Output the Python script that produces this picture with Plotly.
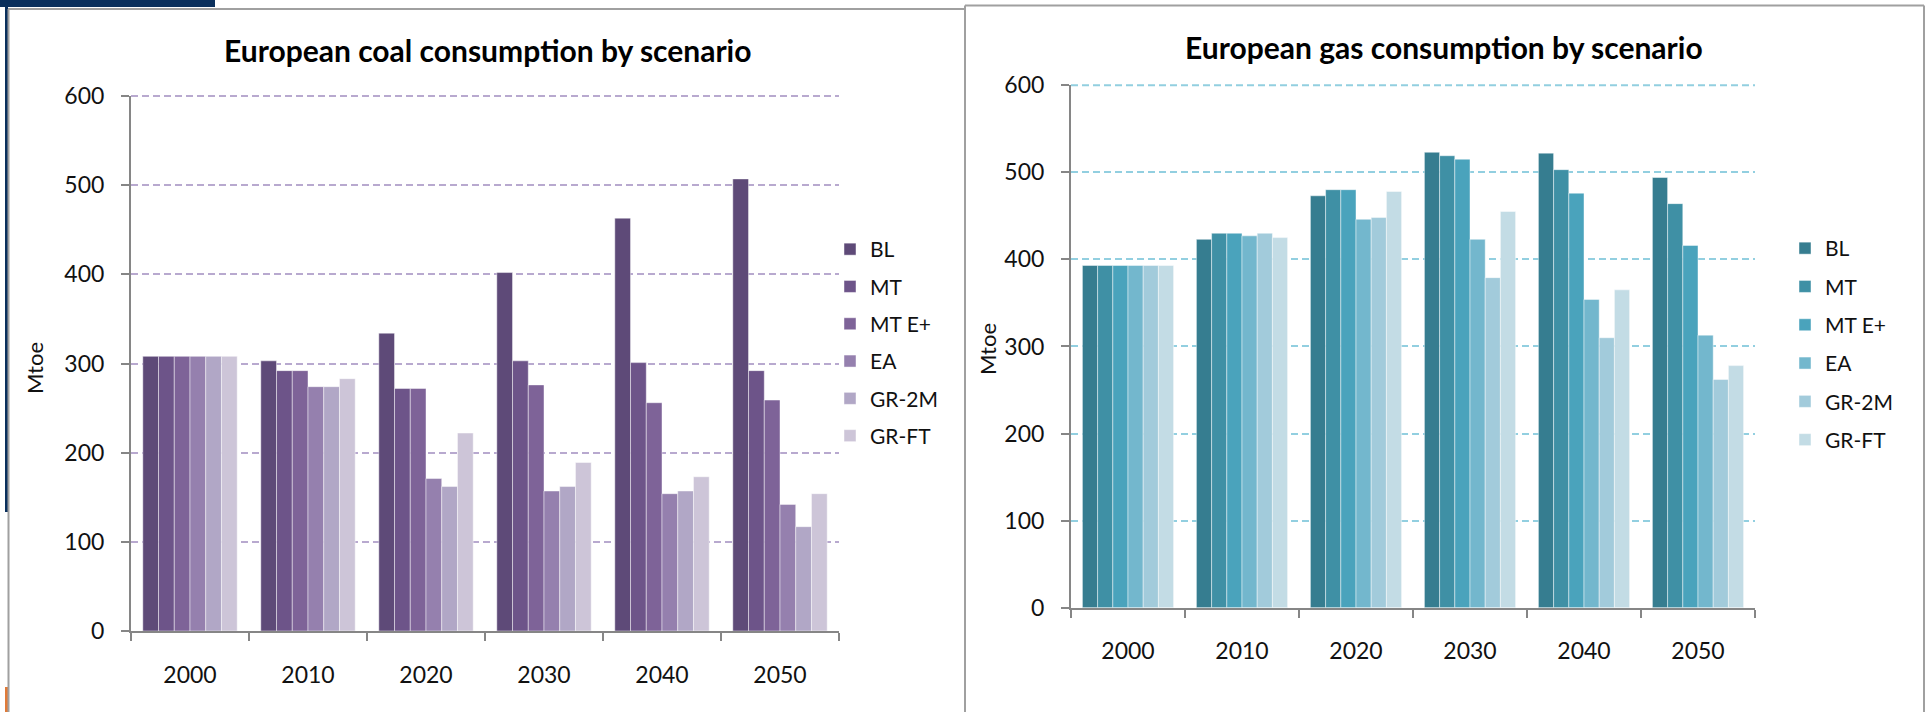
import plotly.graph_objects as go

W, H = 1930, 712

years = ["2000", "2010", "2020", "2030", "2040", "2050"]
scenarios = ["BL", "MT", "MT E+", "EA", "GR-2M", "GR-FT"]

coal_BL = [308, 303, 334, 402, 463, 507]
coal_MT = [308, 292, 272, 303, 301, 292]
coal_MTE = [308, 292, 272, 276, 256, 259]
coal_EA = [308, 274, 171, 157, 154, 142]
coal_GR2M = [308, 274, 162, 162, 157, 117]
coal_GRFT = [308, 283, 222, 189, 173, 154]

gas_BL = [393, 423, 473, 523, 522, 494]
gas_MT = [393, 430, 480, 519, 503, 464]
gas_MTE = [393, 430, 480, 515, 476, 416]
gas_EA = [393, 427, 446, 423, 354, 313]
gas_GR2M = [393, 430, 448, 379, 310, 262]
gas_GRFT = [393, 425, 478, 455, 365, 278]

y_ticks = [0, 100, 200, 300, 400, 500, 600]
y_max = 600

coal_colors = ["#5e4a78", "#6d5489", "#7e6398", "#9580ae", "#b1a7c6", "#cdc5d8"]
gas_colors = ["#367d90", "#3f90a5", "#4aa3bc", "#73b7cd", "#a2cbdb", "#c3dce5"]
coal_grid = "#b8a9cf"
gas_grid = "#92cfe0"

coal_series = [coal_BL, coal_MT, coal_MTE, coal_EA, coal_GR2M, coal_GRFT]
gas_series = [gas_BL, gas_MT, gas_MTE, gas_EA, gas_GR2M, gas_GRFT]

FONT = "Lato"
DASH = "7px,4px"

def px(x):
    return x / W

def py(y):
    return 1 - y / H

coal_dom_y = [py(631), py(96)]
gas_dom_y = [py(607.7), py(85.2)]

fig = go.Figure()

for i, (name, vals) in enumerate(zip(scenarios, coal_series)):
    fig.add_trace(go.Bar(
        x=years, y=vals, name=name, xaxis="x", yaxis="y",
        marker=dict(color=coal_colors[i], line=dict(color="rgba(255,255,255,0.45)", width=1)),
        legend="legend", legendgroup="c" + str(i), hoverinfo="x+y+name",
    ))

for i, (name, vals) in enumerate(zip(scenarios, gas_series)):
    fig.add_trace(go.Bar(
        x=years, y=vals, name=name, xaxis="x2", yaxis="y2",
        marker=dict(color=gas_colors[i], line=dict(color="rgba(255,255,255,0.45)", width=1)),
        legend="legend2", legendgroup="g" + str(i), hoverinfo="x+y+name",
    ))

axis_gray = "#868686"

def xaxis_cfg(domain):
    return dict(
        domain=domain, type="category", showline=True, linecolor=axis_gray, linewidth=2,
        ticks="outside", tickson="boundaries", ticklen=8, tickwidth=2, tickcolor=axis_gray,
        ticklabelstandoff=22, showgrid=False, zeroline=False, automargin=False,
        tickfont=dict(family=FONT, size=23, color="#111111"), fixedrange=True,
    )

def yaxis_cfg(domain, anchor, gridcolor):
    return dict(
        domain=domain, anchor=anchor, range=[0, y_max], tickvals=y_ticks,
        showline=True, linecolor=axis_gray, linewidth=2,
        ticks="outside", ticklen=8, tickwidth=2, tickcolor=axis_gray, ticklabelstandoff=12,
        showgrid=True, gridcolor=gridcolor, gridwidth=2, griddash=DASH, automargin=False,
        zeroline=False, tickfont=dict(family=FONT, size=23, color="#111111"), fixedrange=True,
    )

fig.update_layout(
    width=W, height=H, margin=dict(l=0, r=0, t=0, b=0, pad=0, autoexpand=False),
    paper_bgcolor="white", plot_bgcolor="white",
    barmode="group", bargap=0.2, bargroupgap=0,
    xaxis=dict(**xaxis_cfg([px(131), px(839)]), anchor="y"),
    yaxis=yaxis_cfg(coal_dom_y, "x", coal_grid),
    xaxis2=dict(**xaxis_cfg([px(1071), px(1755)]), anchor="y2"),
    yaxis2=yaxis_cfg(gas_dom_y, "x2", gas_grid),
    legend=dict(x=px(830), y=py(229), xanchor="left", yanchor="top",
                font=dict(family=FONT, size=21, color="#111111"),
                traceorder="grouped", tracegroupgap=7, bgcolor="rgba(0,0,0,0)"),
    legend2=dict(x=px(1785), y=py(228), xanchor="left", yanchor="top",
                 font=dict(family=FONT, size=21, color="#111111"),
                 traceorder="grouped", tracegroupgap=8, bgcolor="rgba(0,0,0,0)"),
    showlegend=True,
)

annotations = [
    dict(text="<b>European coal consump\u200ction by scenario</b>", x=px(487), y=py(50),
         xref="paper", yref="paper", showarrow=False, xanchor="center", yanchor="middle",
         font=dict(family=FONT, size=30, color="#000000")),
    dict(text="<b>European gas consump\u200ction by scenario</b>", x=px(1444), y=py(47),
         xref="paper", yref="paper", showarrow=False, xanchor="center", yanchor="middle",
         font=dict(family=FONT, size=30, color="#000000")),
    dict(text="Mtoe", x=px(34), y=py(368), xref="paper", yref="paper", showarrow=False,
         textangle=-90, xanchor="center", yanchor="middle",
         font=dict(family=FONT, size=22, color="#111111")),
    dict(text="Mtoe", x=px(987), y=py(349), xref="paper", yref="paper", showarrow=False,
         textangle=-90, xanchor="center", yanchor="middle",
         font=dict(family=FONT, size=22, color="#111111")),
]
fig.update_layout(annotations=annotations)

border = "#a0a0a0"
shapes = [
    # top gridlines at the top of each plot area (plotly drops the edge gridline)
    dict(type="line", xref="x domain", yref="paper", x0=0, x1=1, y0=coal_dom_y[1], y1=coal_dom_y[1],
         line=dict(color=coal_grid, width=2, dash=DASH), layer="above"),
    dict(type="line", xref="x2 domain", yref="paper", x0=0, x1=1, y0=gas_dom_y[1], y1=gas_dom_y[1],
         line=dict(color=gas_grid, width=2, dash=DASH), layer="above"),
    # navy header strip
    dict(type="rect", xref="paper", yref="paper", x0=0, x1=px(215), y0=py(7), y1=1,
         fillcolor="#0a2f5c", line=dict(width=0), layer="below"),
    # navy left strip
    dict(type="rect", xref="paper", yref="paper", x0=px(5), x1=px(8), y0=py(512), y1=1,
         fillcolor="#0a2f5c", line=dict(width=0), layer="below"),
    # orange left strip
    dict(type="rect", xref="paper", yref="paper", x0=px(5), x1=px(8), y0=0, y1=py(687),
         fillcolor="#e07b39", line=dict(width=0), layer="below"),
    # left panel border
    dict(type="line", xref="paper", yref="paper", x0=px(8.5), x1=px(8.5), y0=0, y1=py(9),
         line=dict(color=border, width=2)),
    dict(type="line", xref="paper", yref="paper", x0=px(8), x1=px(965), y0=py(9), y1=py(9),
         line=dict(color=border, width=2)),
    # right panel border
    dict(type="line", xref="paper", yref="paper", x0=px(965), x1=px(965), y0=0, y1=py(5.5),
         line=dict(color=border, width=2)),
    dict(type="line", xref="paper", yref="paper", x0=px(965), x1=px(1924), y0=py(5.5), y1=py(5.5),
         line=dict(color=border, width=2)),
    dict(type="line", xref="paper", yref="paper", x0=px(1924), x1=px(1924), y0=0, y1=py(5.5),
         line=dict(color=border, width=2)),
]
fig.update_layout(shapes=shapes)

fig.write_html("out.html")
